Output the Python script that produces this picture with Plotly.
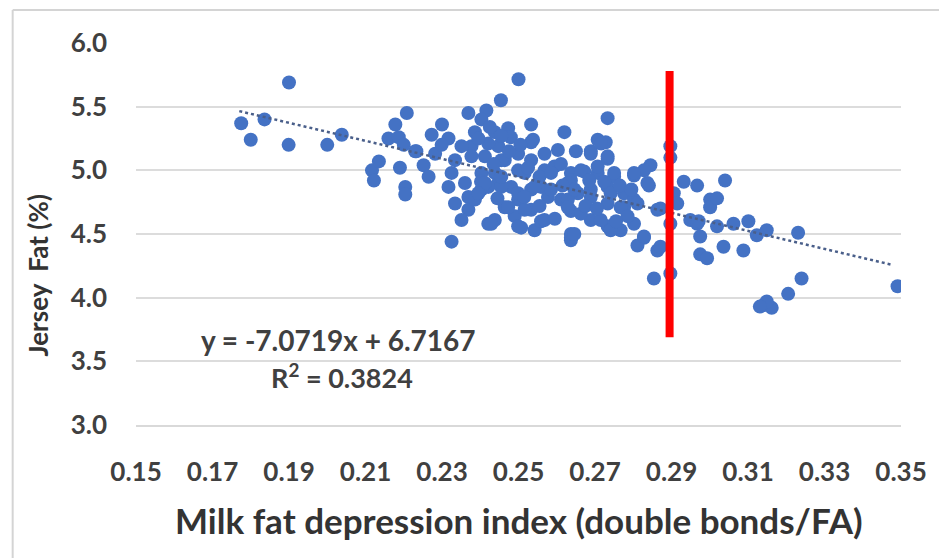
import plotly.graph_objects as go

# ---- data ----
fat_index = [
    0.1775, 0.1836, 0.180, 0.190, 0.1899, 0.200, 0.2038,
    0.2208, 0.2178, 0.216, 0.2187, 0.220, 0.223, 0.2117, 0.2135, 0.2122, 0.219, 0.2204, 0.2204,
    0.250, 0.2454, 0.2416, 0.2369, 0.2533, 0.262, 0.2538, 0.230, 0.2317, 0.2273, 0.2386, 0.2438,
    0.2473, 0.248, 0.2233, 0.2252, 0.2265, 0.2325, 0.2334, 0.2317, 0.236, 0.2403, 0.2412, 0.2377,
    0.2447, 0.2464, 0.2499, 0.2533, 0.2568, 0.2603, 0.2594, 0.2637, 0.2516, 0.2447, 0.2481, 0.2559,
    0.2403, 0.2282, 0.2351, 0.2299,
    0.2334, 0.2369, 0.2369, 0.2351, 0.2325, 0.2421, 0.2438, 0.2464, 0.249, 0.2507, 0.2542, 0.2559,
    0.2533, 0.2499, 0.2421, 0.2577, 0.2611, 0.2637, 0.2637, 0.2533, 0.2402,
    0.2733, 0.2707, 0.2728, 0.265, 0.2689, 0.2733, 0.2897, 0.2897, 0.2845, 0.2828, 0.2802, 0.2841,
    0.2967, 0.2932, 0.2637, 0.2672, 0.2707, 0.275, 0.2733, 0.2689, 0.2655, 0.2776, 0.2802, 0.2906,
    0.2915, 0.3001,
    0.2629, 0.2689, 0.2733, 0.2776, 0.2811, 0.2689, 0.2733, 0.2767, 0.2802, 0.2863, 0.2828, 0.2811,
    0.2863, 0.2637, 0.2854, 0.2897, 0.2897, 0.2949, 0.2967, 0.2975, 0.2975, 0.2993, 0.3001,
    0.304, 0.3019, 0.2971, 0.3019, 0.3062, 0.3101, 0.3123, 0.3149, 0.3231, 0.3036, 0.3088, 0.324,
    0.3205, 0.314, 0.3162, 0.3149, 0.3131, 0.3491,
    0.2533, 0.2455, 0.2499, 0.2568, 0.2611, 0.2412, 0.2455, 0.2499, 0.2542, 0.2585, 0.2629, 0.2386,
    0.2473, 0.2516, 0.2568, 0.2429, 0.2499, 0.2629, 0.2637, 0.2421, 0.2438, 0.2377, 0.2403,
    0.2716, 0.2689, 0.2733, 0.2663, 0.2707, 0.275, 0.2724, 0.2802, 0.2837, 0.2646, 0.2741, 0.2767,
    0.2785, 0.2715, 0.2663, 0.2646, 0.2741, 0.2828, 0.2871, 0.2871,
    0.2395, 0.2425, 0.2455, 0.2505, 0.2475, 0.2435, 0.2525, 0.2555, 0.2585, 0.2455, 0.2395,
    0.2445, 0.2515, 0.2555, 0.2595, 0.2615, 0.2675, 0.2705, 0.2755, 0.2685, 0.2765, 0.2795,
]
jersey_fat = [
    5.37, 5.40, 5.24, 5.69, 5.20, 5.20, 5.28,
    5.45, 5.36, 5.25, 5.26, 5.20, 5.15, 5.00, 5.07, 4.92, 5.02, 4.87, 4.81,
    5.715, 5.55, 5.47, 5.45, 5.36, 5.30, 5.24, 5.36, 5.25, 5.28, 5.30, 5.30,
    5.33, 5.26, 5.15, 5.04, 4.95, 4.98, 5.08, 4.87, 4.90, 4.98, 5.11, 5.19,
    5.19, 5.08, 5.13, 5.08, 5.13, 5.16, 5.03, 4.98, 4.98, 4.90, 4.87, 4.87,
    4.85, 5.13, 5.19, 5.20,
    4.74, 4.79, 4.69, 4.61, 4.44, 4.58, 4.61, 4.71, 4.64, 4.55, 4.53, 4.60,
    4.69, 4.77, 4.87, 4.79, 4.77, 4.68, 4.47, 4.85, 4.91,
    5.41, 5.24, 5.22, 5.15, 5.15, 5.09, 5.19, 5.10, 5.04, 5.00, 4.96, 4.88,
    4.88, 4.91, 4.92, 4.99, 4.98, 4.95, 4.87, 4.85, 4.82, 4.82, 4.77, 4.82,
    4.74, 4.77,
    4.77, 4.79, 4.74, 4.71, 4.74, 4.61, 4.56, 4.53, 4.58, 4.69, 4.47, 4.41,
    4.37, 4.45, 4.15, 4.19, 4.58, 4.61, 4.58, 4.48, 4.34, 4.31, 4.71,
    4.92, 4.78, 4.60, 4.56, 4.58, 4.60, 4.49, 4.53, 4.51, 4.40, 4.37, 4.15,
    4.03, 3.94, 3.92, 3.97, 3.93, 4.09,
    5.22, 5.08, 5.00, 5.00, 5.05, 4.90, 4.87, 4.82, 4.87, 4.85, 4.90, 4.77,
    4.71, 4.69, 4.61, 4.58, 4.56, 4.71, 4.50, 5.21, 4.98, 5.11, 5.40,
    5.21, 5.13, 5.11, 5.00, 5.03, 4.98, 4.91, 4.98, 4.90, 4.85, 4.82, 4.71,
    4.64, 4.61, 4.66, 4.50, 4.53, 4.48, 4.70, 4.40,
    5.25, 5.34, 5.27, 5.20, 5.15, 5.05, 5.02, 4.95, 4.98, 4.95, 4.82,
    4.78, 4.79, 4.72, 4.62, 4.88, 4.72, 4.70, 4.60, 4.92, 4.88, 4.85,
]

slope, intercept = -7.0719, 6.7167
trend_x = [0.177, 0.348]
trend_y = [slope * v + intercept for v in trend_x]

x_ticks = [0.15, 0.17, 0.19, 0.21, 0.23, 0.25, 0.27, 0.29, 0.31, 0.33, 0.35]
y_ticks = [3.0, 3.5, 4.0, 4.5, 5.0, 5.5, 6.0]

threshold_x = 0.2895
threshold_y = [3.69, 5.78]

equation_text = "y = -7.0719x + 6.7167"
r2_text = "R<sup>2</sup> = 0.3824"

FONT = "Lato"
TXT = "#404040"

fig = go.Figure()
fig.add_trace(go.Scatter(
    x=fat_index, y=jersey_fat, mode="markers",
    marker=dict(size=14, color="#4472C4", line=dict(width=0)),
    showlegend=False, hoverinfo="x+y",
))
fig.add_trace(go.Scatter(
    x=trend_x, y=trend_y, mode="lines",
    line=dict(color="#4a5f8a", width=2.5, dash="dot"),
    showlegend=False, hoverinfo="skip",
))
fig.add_trace(go.Scatter(
    x=[threshold_x, threshold_x], y=threshold_y, mode="lines",
    line=dict(color="#ff0000", width=8),
    showlegend=False, hoverinfo="skip",
))

fig.update_layout(
    width=939, height=558,
    margin=dict(l=136, r=34, t=43, b=133),
    paper_bgcolor="white", plot_bgcolor="white",
    font=dict(family=FONT, color=TXT),
    xaxis=dict(
        range=[0.15, 0.35], tickvals=x_ticks, ticktext=[f"{v:.2f}" for v in x_ticks],
        showgrid=False, zeroline=False, showline=True, linecolor="#d9d9d9", linewidth=2,
        ticks="", ticklabelstandoff=23,
        tickfont=dict(family=FONT, size=26, color=TXT, weight="bold"),
    ),
    yaxis=dict(
        range=[3.0, 6.0], tickvals=y_ticks, ticktext=[f"{v:.1f}" for v in y_ticks],
        showgrid=True, gridcolor="#dcdcdc", gridwidth=2, zeroline=False, showline=False,
        ticks="", ticklabelstandoff=28,
        tickfont=dict(family=FONT, size=26, color=TXT, weight="bold"),
    ),
    shapes=[
        dict(type="line", xref="paper", yref="paper", x0=-0.1612, x1=1.1, y0=1.0864, y1=1.0864,
             line=dict(color="#d4d4d4", width=2)),
        dict(type="line", xref="paper", yref="paper", x0=-0.1612, x1=-0.1612, y0=-0.36, y1=1.0864,
             line=dict(color="#d4d4d4", width=2)),
    ],
    annotations=[
        dict(text="Milk fat depression index (double bonds/FA)", xref="paper", yref="paper",
             x=0.5, y=-0.249, xanchor="center", yanchor="middle", showarrow=False,
             font=dict(family=FONT, size=35, color="#333333", weight="bold")),
        dict(text="Jersey  Fat (%)", xref="paper", yref="paper", textangle=-90,
             x=-0.1287, y=0.39, xanchor="center", yanchor="middle", showarrow=False,
             font=dict(family=FONT, size=26, color="#333333", weight="bold")),
        dict(text=equation_text, xref="paper", yref="paper",
             x=(340 - 136) / 769, y=(425 - 340) / 382, xanchor="center", yanchor="middle",
             showarrow=False, font=dict(family=FONT, size=28, color=TXT, weight="bold")),
        dict(text=r2_text, xref="paper", yref="paper",
             x=(343 - 136) / 769, y=(425 - 376) / 382, xanchor="center", yanchor="middle",
             showarrow=False, font=dict(family=FONT, size=27, color=TXT, weight="bold")),
    ],
)

fig.write_html("out.html")
